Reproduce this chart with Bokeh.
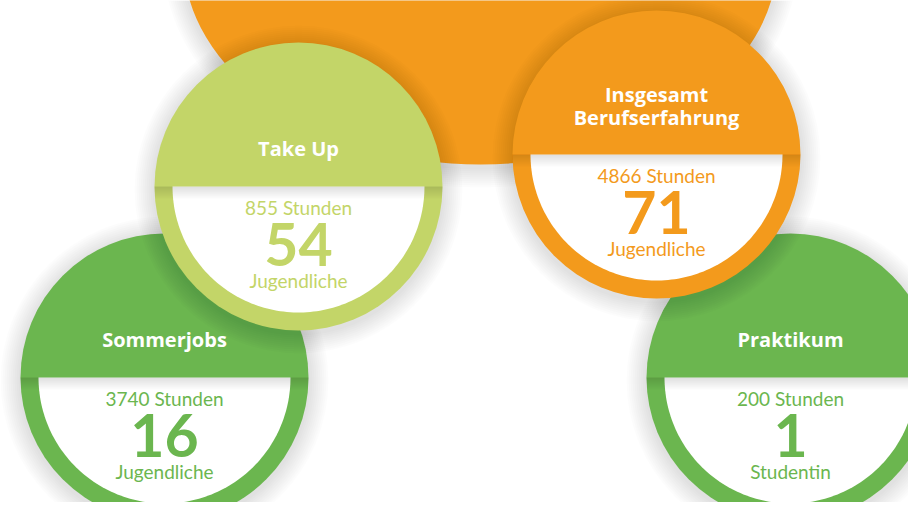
import numpy as np
from bokeh.plotting import figure
from bokeh.models import Range1d, ColumnDataSource
from bokeh.core.properties import value
from bokeh.embed import file_html
from bokeh.resources import INLINE

# ---- data ----
titles = ["Sommerjobs", "Praktikum", "Take Up", "Insgesamt\nBerufserfahrung"]
hours = [3740, 200, 855, 4866]
counts = [16, 1, 54, 71]
units = ["Jugendliche", "Studentin", "Jugendliche", "Jugendliche"]
hour_unit = "Stunden"

# ---- layout / style ----
centers_x = [164, 790, 298, 656]
centers_y = [377, 377, 186, 154]
colors = ["#6BB64F", "#6BB64F", "#C3D568", "#F39A1C"]
R_OUT = 144
R_IN = 126
ORANGE = "#F39A1C"
FONT = "Lato"
TITLE_FONT = "Open Sans"

p = figure(width=908, height=502, x_range=Range1d(0, 908), y_range=Range1d(502, 0),
           output_backend="svg", toolbar_location=None, min_border=0)
p.axis.visible = False
p.grid.visible = False
p.outline_line_color = None
p.background_fill_color = "white"
p.border_fill_color = "white"

# big orange background shape with soft shadow
BX, BY, BW, BH = 480, -42, 594, 412
for k in range(10, 0, -1):
    p.ellipse(x=BX, y=BY + 3, width=BW + 4 * k, height=BH + 4 * k,
              fill_color="black", fill_alpha=0.013, line_color=None)
p.ellipse(x=BX, y=BY, width=BW, height=BH, fill_color=ORANGE, line_color=None)


def half_disc(cx, cy, r, n=120):
    t = np.linspace(0, np.pi, n)
    return list(cx + r * np.cos(t)), list(cy + r * np.sin(t))


def band(cx, cy, r, h, n=30):
    ys = np.linspace(cy, cy + h, n)
    dx = np.sqrt(np.maximum(r * r - (ys - cy) ** 2, 0))
    xs = list(cx - dx) + list((cx + dx)[::-1])
    yy = list(ys) + list(ys[::-1])
    return xs, yy


for i in range(len(titles)):
    cx, cy, col = centers_x[i], centers_y[i], colors[i]
    # drop shadow
    for k in range(10, 0, -1):
        p.circle(x=cx, y=cy + 3, radius=R_OUT + 2 * k, fill_color="black",
                 fill_alpha=0.013, line_color=None)
    p.circle(x=cx, y=cy, radius=R_OUT, fill_color=col, line_color=None)
    hx, hy = half_disc(cx, cy, R_IN)
    p.patch(hx, hy, fill_color="white", line_color=None)
    # shadow under the title band
    for h in range(2, 14, 2):
        bx, by = band(cx, cy, R_OUT, h)
        p.patch(bx, by, fill_color="black", fill_alpha=0.018, line_color=None)

    lines = titles[i].split("\n")
    if len(lines) == 1:
        ty = [cy - 38]
    else:
        ty = [cy - 60, cy - 37]
    src_t = ColumnDataSource(dict(x=[cx] * len(lines), y=ty, t=lines))
    p.text(x="x", y="y", text="t", source=src_t, text_font=value(TITLE_FONT),
           text_font_size="20px", text_font_style="bold", text_color="white",
           text_align="center", text_baseline="middle")

    sub = ColumnDataSource(dict(x=[cx, cx], y=[cy + 21, cy + 94],
                                t=[f"{hours[i]} {hour_unit}", units[i]]))
    p.text(x="x", y="y", text="t", source=sub, text_font=value(FONT),
           text_font_size="19px", text_color=col,
           text_align="center", text_baseline="middle")
    num = ColumnDataSource(dict(x=[cx], y=[cy + 58], t=[str(counts[i])]))
    p.text(x="x", y="y", text="t", source=num, text_font=value(FONT),
           text_font_size="59px", text_font_style="bold", text_color=col,
           text_align="center", text_baseline="middle")

open("out.html", "w").write(file_html(p, INLINE))
